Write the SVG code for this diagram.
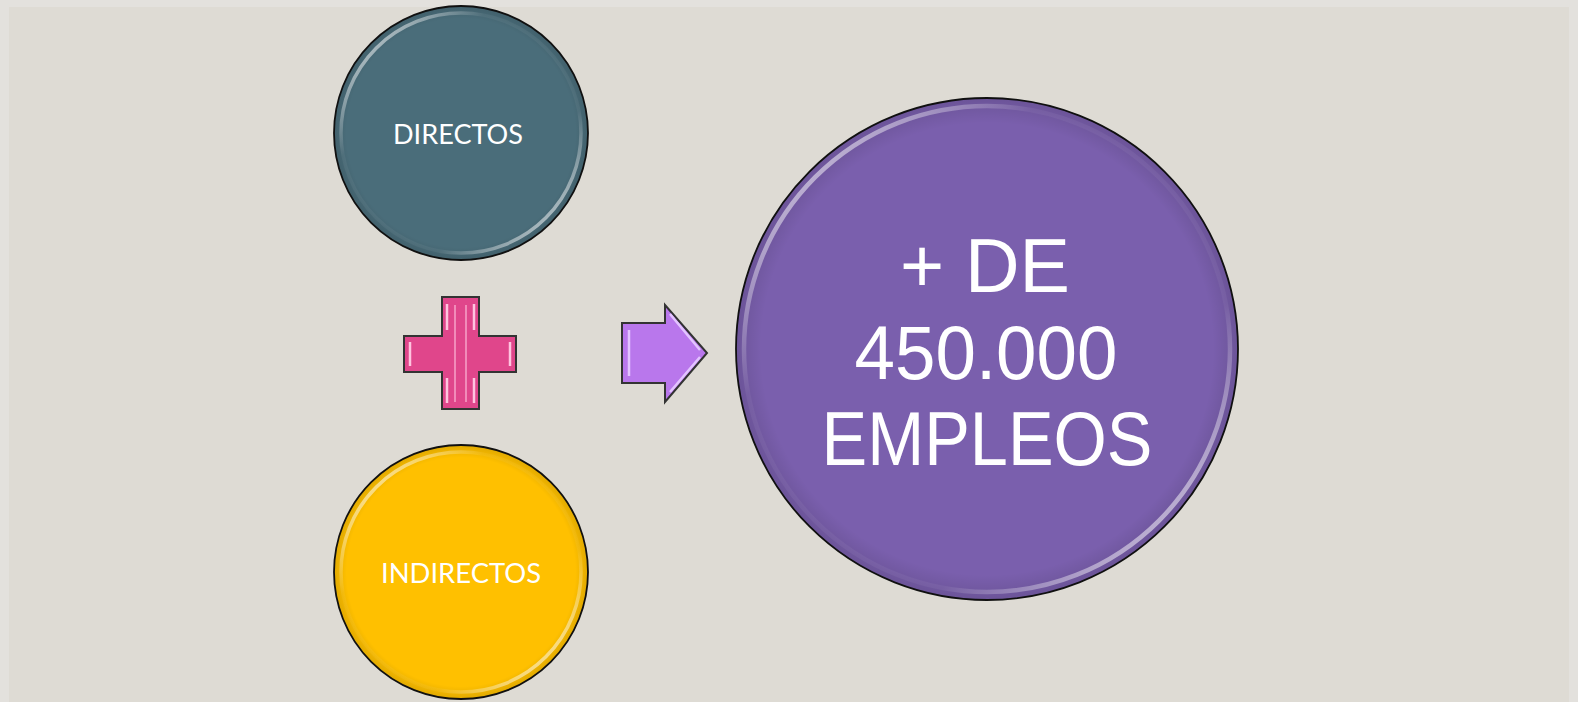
<svg xmlns="http://www.w3.org/2000/svg" width="1578" height="702" viewBox="0 0 1578 702">
<defs>
<style>
.lbl{font-family:Lato,"Open Sans","Liberation Sans",sans-serif;fill:#ffffff;text-anchor:middle}
.big{font-family:"Liberation Sans",Arial,sans-serif;fill:#ffffff;text-anchor:middle;font-size:76px}
.ring{fill:none}
</style>
<linearGradient id="sheen" x1="0" y1="0" x2="1" y2="1">
<stop offset="0" stop-color="#fff" stop-opacity="0.95"/>
<stop offset="0.3" stop-color="#fff" stop-opacity="0.05"/>
<stop offset="0.7" stop-color="#fff" stop-opacity="0.05"/>
<stop offset="1" stop-color="#fff" stop-opacity="0.95"/>
</linearGradient>
<radialGradient id="edge" cx="0.5" cy="0.5" r="0.5">
<stop offset="0.9" stop-color="#000" stop-opacity="0"/>
<stop offset="1" stop-color="#000" stop-opacity="0.12"/>
</radialGradient>
</defs>
<rect x="0" y="0" width="1578" height="702" fill="#e3e1dd"/>
<rect x="9" y="7" width="1560" height="695" fill="#dedbd4"/>

<g id="directos">
<circle cx="461" cy="133" r="127" fill="#4a6d7a" stroke="#111" stroke-width="1.8"/>
<circle cx="461" cy="133" r="127" fill="url(#edge)"/>
<circle cx="461" cy="133" r="120" class="ring" stroke="url(#sheen)" stroke-width="3.5"/>
<text class="lbl" x="458" y="144" font-size="27" textLength="130" lengthAdjust="spacingAndGlyphs">DIRECTOS</text>
</g>

<g id="indirectos">
<circle cx="461" cy="572" r="127" fill="#ffc000" stroke="#111" stroke-width="1.8"/>
<circle cx="461" cy="572" r="127" fill="url(#edge)"/>
<circle cx="461" cy="572" r="120" class="ring" stroke="url(#sheen)" stroke-width="3.5"/>
<text class="lbl" x="461" y="583" font-size="27" textLength="160" lengthAdjust="spacingAndGlyphs">INDIRECTOS</text>
</g>

<g id="empleos">
<circle cx="987" cy="349" r="251" fill="#7a5fad" stroke="#111" stroke-width="1.8"/>
<circle cx="987" cy="349" r="251" fill="url(#edge)"/>
<circle cx="987" cy="349" r="243" class="ring" stroke="url(#sheen)" stroke-width="4.5"/>
<text class="big" x="985" y="292" textLength="170" lengthAdjust="spacingAndGlyphs">+ DE</text>
<text class="big" x="986" y="379" textLength="263" lengthAdjust="spacingAndGlyphs">450.000</text>
<text class="big" x="987" y="465" textLength="331" lengthAdjust="spacingAndGlyphs">EMPLEOS</text>
</g>

<g id="plus">
<path d="M442,297 H479 V336 H516 V372 H479 V409 H442 V372 H404 V336 H442 Z" fill="#e0468b" stroke="#333" stroke-width="2"/>
<path d="M447,304 V330 M474,304 V330 M447,378 V403 M474,378 V403 M410,342 V366 M510,342 V366" stroke="#ffc4df" stroke-width="2.5" fill="none"/>
<path d="M455,305 V402 M466,305 V402" stroke="#f59cc4" stroke-width="2" fill="none" opacity="0.8"/>
</g>

<g id="connectors">
<g id="arrow">
<path d="M622,323 H665 V305 L707,353 L665,402 V383 H622 Z" fill="#b977ec" stroke="#333" stroke-width="2"/>
<path d="M629,330 V376 M670,314 L700,350 M670,392 L700,357" stroke="#e3c4ff" stroke-width="2.5" fill="none"/>
</g>
</g>
</svg>
